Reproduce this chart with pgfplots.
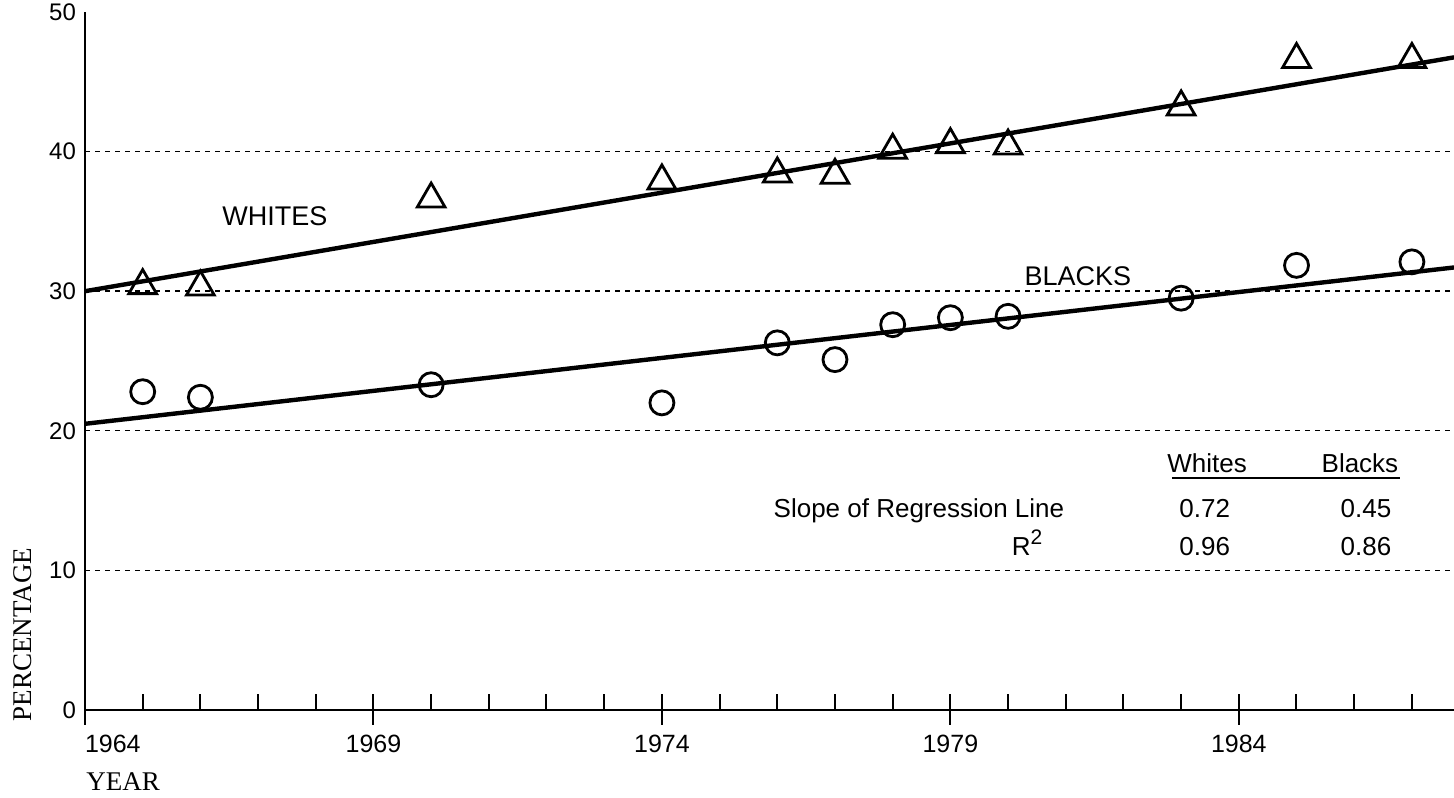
\documentclass[border=0pt]{standalone}
\usepackage{fontspec}
\setmainfont{Liberation Sans}
\newfontfamily\seriffont{Liberation Serif}
\usepackage{pgfplots}
\usepackage{pgfplotstable}
\pgfplotsset{compat=1.18}

\pgfplotstableread{
year w
1965 30.4
1966 30.3
1970 36.6
1974 37.9
1976 38.4
1977 38.3
1978 40.1
1979 40.5
1980 40.4
1983 43.2
1985 46.6
1987 46.6
}\whites

\pgfplotstableread{
year b
1965 22.8
1966 22.4
1970 23.3
1974 22.0
1976 26.3
1977 25.1
1978 27.6
1979 28.1
1980 28.2
1983 29.5
1985 31.85
1987 32.1
}\blacks

\begin{document}
\begin{tikzpicture}
\useasboundingbox (-42.5pt,-43.5pt) rectangle (684.5pt,355pt);
\clip (-42.5pt,-43.5pt) rectangle (684.5pt,355pt);
\begin{axis}[
  at={(0,0)}, anchor=south west,
  scale only axis, width=684.5pt, height=349pt,
  xmin=1964, xmax=1987.73, ymin=0, ymax=50,
  axis x line*=bottom, axis y line*=left,
  axis line style={line width=1pt, black},
  tick pos=left,
  /pgf/number format/assume math mode=true,
  xtick={1964,...,1988}, xticklabels={},
  tick align=inside,
  major tick length=8pt,
  x tick style={line width=1pt, black},
  extra x ticks={1964,1969,1974,1979,1984},
  extra x tick labels={\makebox[0pt][l]{1964},1969,1974,1979,1984},
  extra x tick style={tick align=center, major tick length=14.5pt},
  x tick label style={font=\fontsize{12.5}{14}\selectfont, yshift=-1.5pt},
  ytick={0,10,20,30,40,50},
  y tick style={draw=none},
  y tick label style={font=\fontsize{12}{14}\selectfont, xshift=-1pt},
  extra y ticks={10,20,30,40}, extra y tick labels={},
  extra y tick style={grid=major},
  grid style={black, line width=0.7pt, dash pattern=on 2.5pt off 2.5pt},
]
\addplot[black, line width=2.2pt] coordinates {(1964,30.0) (1987.73,46.75)};
\addplot[black, line width=2.2pt] coordinates {(1964,20.5) (1987.73,31.7)};
\addplot[only marks, mark=triangle, mark size=8pt, mark options={black, line width=1.4pt}] table[x=year,y=w]{\whites};
\addplot[only marks, mark=o, mark size=6pt, mark options={black, line width=1.4pt}] table[x=year,y=b]{\blacks};

\node[anchor=base, inner sep=0, font=\fontsize{13.5}{15}\selectfont] at (axis cs:1967.29,34.72) {WHITES};
\node[anchor=base, inner sep=0, font=\fontsize{13.5}{15}\selectfont] at (axis cs:1981.21,30.42) {BLACKS};

\node[anchor=base, inner sep=0, font=\fontsize{13}{15}\selectfont] at (axis cs:1983.45,17.04) {Whites};
\node[anchor=base east, inner sep=0, font=\fontsize{13}{15}\selectfont] at (axis cs:1986.77,17.04) {Blacks};
\draw[line width=1pt] (axis cs:1982.84,16.6) -- (axis cs:1986.79,16.6);
\node[anchor=base east, inner sep=0, font=\fontsize{13}{15}\selectfont] at (axis cs:1980.98,13.82) {Slope of Regression Line};
\node[anchor=base, inner sep=0, font=\fontsize{13}{15}\selectfont] at (axis cs:1983.41,13.82) {0.72};
\node[anchor=base east, inner sep=0, font=\fontsize{13}{15}\selectfont] at (axis cs:1986.65,13.82) {0.45};
\node[anchor=base east, inner sep=0, font=\fontsize{13}{15}\selectfont] at (axis cs:1980.6,11.1) {R\raisebox{0.75ex}{\fontsize{10.5}{11}\selectfont 2}};
\node[anchor=base, inner sep=0, font=\fontsize{13}{15}\selectfont] at (axis cs:1983.41,11.1) {0.96};
\node[anchor=base east, inner sep=0, font=\fontsize{13}{15}\selectfont] at (axis cs:1986.65,11.1) {0.86};
\end{axis}
\node[rotate=90, inner sep=0, font=\seriffont\fontsize{13.5}{15}\selectfont] at (-31pt,37.75pt) {PERCENTAGE};
\node[anchor=base west, inner sep=0, font=\seriffont\fontsize{13.5}{15}\selectfont] at (0.5pt,-40pt) {YEAR};
\end{tikzpicture}
\end{document}
